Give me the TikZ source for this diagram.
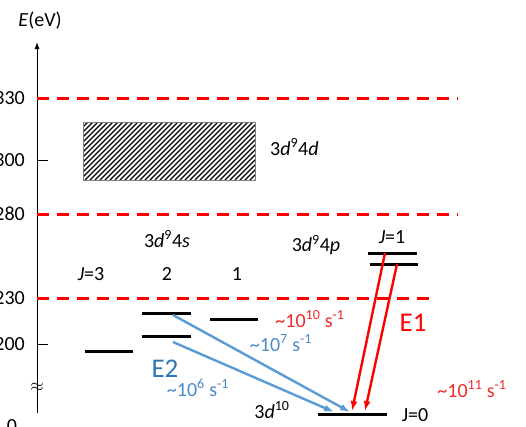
\documentclass[tikz,border=0pt]{standalone}
\usepackage{fontspec}
\setmainfont{Carlito}
\usetikzlibrary{arrows.meta}
\definecolor{lblue}{RGB}{91,155,213}
\definecolor{tblue}{RGB}{46,117,182}
\definecolor{rblue}{RGB}{74,138,200}
\definecolor{rred}{RGB}{240,40,40}
\newcommand{\sfx}[1]{\textsuperscript{#1}}
\newcommand{\tl}{\char`\~}
\begin{document}
\begin{tikzpicture}[x=1pt,y=-1pt,
  lvl/.style={line width=3pt},
  reddash/.style={red, line width=3pt, dash pattern=on 12pt off 8pt},
  lbl/.style={font=\fontsize{20}{24}\selectfont, inner sep=0pt},
  big/.style={font=\fontsize{27}{30}\selectfont, inner sep=0pt},
  e1arrow/.style={red, line width=2.4pt, -{Latex[length=10pt,width=7pt]}},
  e2arrow/.style={lblue, line width=2.4pt, -{Latex[length=10pt,width=7pt]}}]
\useasboundingbox (0,0) rectangle (526,426);
% axis
\coordinate (ax0) at (37,413);
\coordinate (axtop) at (37,42);
\draw[line width=1pt, -{Latex[length=7pt,width=5pt]}] (ax0) -- (axtop);
\node[lbl] (elab) at (40,21) {\textit{E}(eV)};
\foreach \yy in {160,344} \draw[line width=0.8pt] (37,\yy) -- (48,\yy);
\node[lbl, anchor=east] (t330) at (25,98) {330};
\node[lbl, anchor=east] (t300) at (25,160) {300};
\node[lbl, anchor=east] (t280) at (25,214) {280};
\node[lbl, anchor=east] (t230) at (25,298) {230};
\node[lbl, anchor=east] (t200) at (25,344) {200};
\node[lbl] (t0) at (12,426) {0};
\node[lbl, font=\fontsize{16}{18}\selectfont] (brk) at (37,387) {$\approx$};
% red dashed thresholds
\draw[reddash] (37,98) -- (458,98);
\draw[reddash] (37,214) -- (458,214);
\draw[reddash] (37,298) -- (432,298);
% hatched box
\begin{scope}
\clip (83,122) rectangle (255,180);
\foreach \i in {0,...,48} \draw[line width=1.3pt] (25+\i*5,180) -- ++(60,-60);
\end{scope}
\draw[line width=0.6pt, gray] (83,122) rectangle (255,180);
\node[lbl, anchor=west] (c4d) at (270,147) {3\textit{d}\sfx{9}4\textit{d}};
% 3d9 4s levels
\node[lbl] (c4s) at (167,239) {3\textit{d}\sfx{9}4\textit{s}};
\node[lbl] (j3) at (91,274) {\textit{J}=3};
\node[lbl] (j2) at (167,274) {2};
\node[lbl] (j1) at (237,274) {1};
\draw[lvl] (85,351) -- (133,351);
\draw[lvl] (142,313) -- (191,313);
\draw[lvl] (142,336) -- (191,336);
\draw[lvl] (210,319) -- (258,319);
% 3d9 4p levels
\node[lbl] (c4p) at (316,245) {3\textit{d}\sfx{9}4\textit{p}};
\node[lbl] (jp1) at (392,237) {\textit{J}=1};
\draw[lvl] (368,253) -- (417,253);
\draw[lvl] (370,264) -- (418,264);
% ground
\draw[lvl] (318,414) -- (387,414);
\node[lbl] (c10) at (272,410) {3\textit{d}\sfx{10}};
\node[lbl] (j0) at (415,415) {J=0};
% arrow endpoints
\coordinate (p1s) at (385,253);
\coordinate (p2s) at (397,264);
\coordinate (p1e) at (352,411);
\coordinate (p2e) at (365,411);
\coordinate (s1s) at (173,315);
\coordinate (s2s) at (173,342);
\coordinate (s1e) at (350,412);
\coordinate (s2e) at (334,412);
\draw[e1arrow] (p1s) -- (p1e);
\draw[e1arrow] (p2s) -- (p2e);
\draw[e2arrow] (s1s) -- (s1e);
\draw[e2arrow] (s2s) -- (s2e);
% rate labels
\node[lbl, text=rred] (r10) at (310,319) {\tl10\sfx{10} s\sfx{-1}};
\node[lbl, text=rblue] (r7) at (281,343) {\tl10\sfx{7} s\sfx{-1}};
\node[lbl, text=rblue] (r6) at (198,388) {\tl10\sfx{6} s\sfx{-1}};
\node[lbl, text=rred] (r11) at (472,389) {\tl10\sfx{11} s\sfx{-1}};
\node[big, text=red] (e1) at (413,323) {E1};
\node[big, text=tblue] (e2) at (165,369) {E2};
\end{tikzpicture}
\end{document}
